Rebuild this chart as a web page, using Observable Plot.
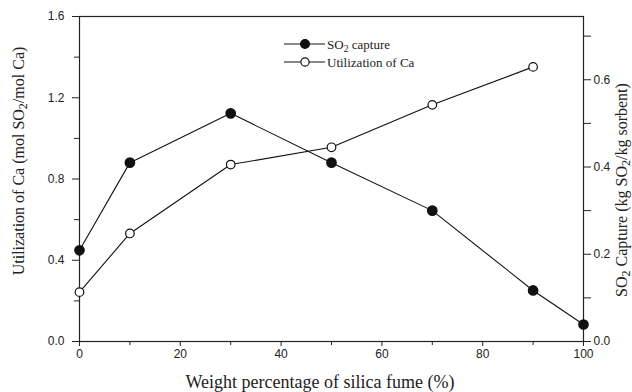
<!DOCTYPE html>
<html>
<head>
<meta charset="utf-8">
<script src="https://cdn.jsdelivr.net/npm/d3@7"></script>
<script src="https://cdn.jsdelivr.net/npm/@observablehq/plot@0.6"></script>
<style>
  body { margin: 0; background: #fff; }
  #chart { position: relative; width: 632px; height: 392px; }
</style>
</head>
<body>
<div id="chart"></div>
<script>
// Data
const silicaFume = [0, 10, 30, 50, 70, 90, 100];
const so2Capture = [0.209, 0.41, 0.523, 0.41, 0.30, 0.117, 0.039]; // kg SO2/kg sorbent (right axis)
const utilX = [0, 10, 30, 50, 70, 90];
const utilCa = [0.243, 0.532, 0.871, 0.956, 1.165, 1.352]; // mol SO2/mol Ca (left axis)

const xTicks = [0, 20, 40, 60, 80, 100];
const xMinor = [10, 30, 50, 70, 90];
const leftTicks = [0, 0.4, 0.8, 1.2, 1.6];
const leftMinor = [0.2, 0.6, 1.0, 1.4];
const rightTicks = [0, 0.2, 0.4, 0.6];
const rightMinor = [0.1, 0.3, 0.5, 0.7];

const leftMax = 1.6, rightMax = 0.745;
const k = leftMax / rightMax;

const so2Data = silicaFume.map((x, i) => ({x, y: so2Capture[i] * k}));
const utilData = utilX.map((x, i) => ({x, y: utilCa[i]}));

const W = 632, H = 392;
const fmt = d3.format(".1f");

const plot = Plot.plot({
  width: W, height: H,
  marginLeft: 79, marginRight: 49, marginTop: 16, marginBottom: 51,
  style: {fontFamily: "'Liberation Sans', Arial, sans-serif", fontSize: "12px", color: "#222", background: "#fff"},
  x: {domain: [0, 100]},
  y: {domain: [0, leftMax]},
  marks: [
    Plot.frame({stroke: "#222", strokeWidth: 1.2}),
    Plot.axisX({ticks: xTicks, tickSize: 5, tickPadding: 3, tickFormat: d => d, label: null, fontSize: 12}),
    Plot.axisX({ticks: xMinor, tickSize: 4, tickFormat: () => "", label: null}),
    Plot.axisY({ticks: leftTicks, tickSize: 7, tickPadding: 8, tickFormat: fmt, label: null, fontSize: 12}),
    Plot.axisY({ticks: leftMinor, tickSize: 5, tickFormat: () => "", label: null}),
    Plot.axisY({anchor: "right", ticks: rightTicks.map(v => v * k), tickSize: 7, tickPadding: 3, tickFormat: d => fmt(d / k), label: null, fontSize: 12}),
    Plot.axisY({anchor: "right", ticks: rightMinor.map(v => v * k), tickSize: 7, tickFormat: () => "", label: null}),
    Plot.line(so2Data, {x: "x", y: "y", stroke: "#111", strokeWidth: 1.1}),
    Plot.line(utilData, {x: "x", y: "y", stroke: "#111", strokeWidth: 1.1}),
    Plot.dot(so2Data, {x: "x", y: "y", r: 4.6, fill: "#111", stroke: "#111"}),
    Plot.dot(utilData, {x: "x", y: "y", r: 4.3, fill: "#fff", stroke: "#111", strokeWidth: 1.2})
  ]
});
document.getElementById("chart").appendChild(plot);

// Titles and legend with subscripts
const svg = d3.select(plot);
const serif = "'Liberation Serif', 'Times New Roman', serif";
function addSubText(g, parts, attrs) {
  const t = g.append("text").attr("font-family", serif).attr("fill", "#222");
  for (const [k2, v] of Object.entries(attrs)) t.attr(k2, v);
  parts.forEach(p => {
    if (p.sub) {
      t.append("tspan").attr("baseline-shift", "-25%").attr("font-size", "75%").text(p.t);
    } else {
      t.append("tspan").text(p.t);
    }
  });
  return t;
}
const g = svg.append("g");
addSubText(g, [{t: "Weight percentage of silica fume (%)"}], {x: 320, y: 388, "text-anchor": "middle", "font-size": 18});
addSubText(g, [{t: "Utilization of Ca (mol SO"}, {t: "2", sub: true}, {t: "/mol Ca)"}],
  {transform: "translate(24,161) rotate(-90)", "text-anchor": "middle", "font-size": 16});
addSubText(g, [{t: "SO"}, {t: "2", sub: true}, {t: " Capture (kg SO"}, {t: "2", sub: true}, {t: "/kg sorbent)"}],
  {transform: "translate(627,190) rotate(-90)", "text-anchor": "middle", "font-size": 16});

// Legend
const legendItems = [
  {label: [{t: "SO"}, {t: "2", sub: true}, {t: " capture"}], filled: true, y: 44},
  {label: [{t: "Utilization of Ca"}], filled: false, y: 62}
];
legendItems.forEach(it => {
  g.append("line").attr("x1", 284).attr("x2", 325).attr("y1", it.y).attr("y2", it.y).attr("stroke", "#111").attr("stroke-width", 1.1);
  g.append("circle").attr("cx", 305).attr("cy", it.y).attr("r", it.filled ? 4.4 : 4.1)
    .attr("fill", it.filled ? "#111" : "#fff").attr("stroke", "#111").attr("stroke-width", 1.2);
  addSubText(g, it.label, {x: 327, y: it.y + 4.5, "font-size": 13, "text-anchor": "start"});
});
</script>
</body>
</html>
